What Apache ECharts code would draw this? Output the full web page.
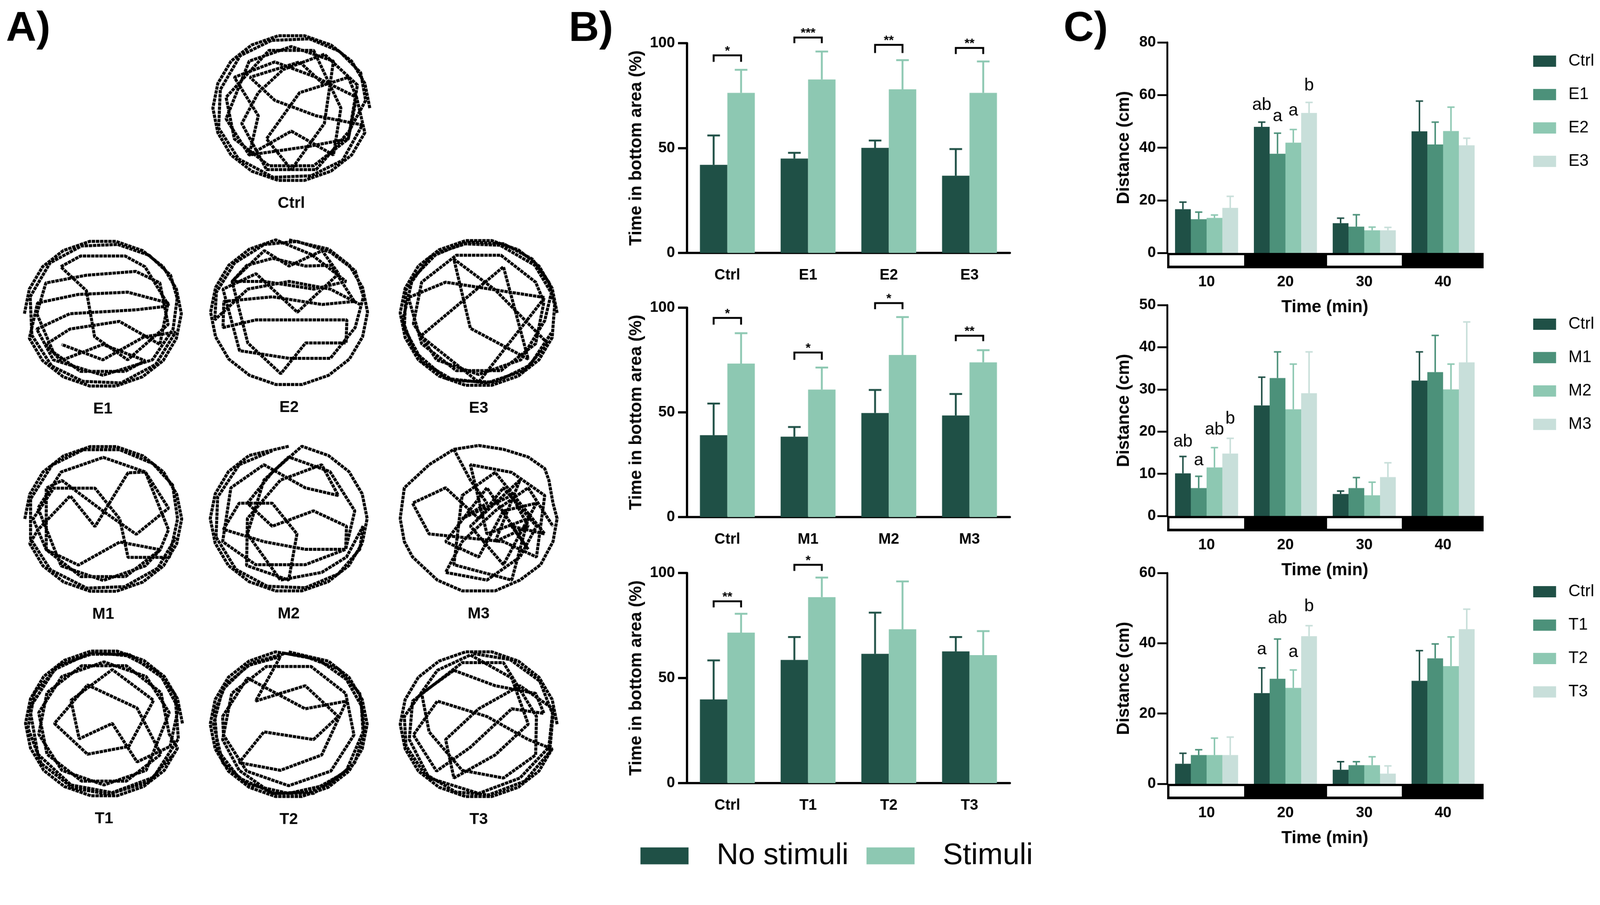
<!DOCTYPE html>
<html>
<head>
<meta charset="utf-8">
<script src="https://cdn.jsdelivr.net/npm/echarts@6/dist/echarts.min.js"></script>
<style>
  html, body { margin: 0; padding: 0; background: #fff; overflow: hidden; }
  #main { width: 4262px; height: 2318px; transform-origin: 0 0; }
</style>
</head>
<body>
<div id="main"></div>
<script>
// colours and fonts
var DARK = '#1f5046', MID = '#4c917a', LIGHT = '#8dc8b2', PALE = '#c8dfda';
var NARROW = "'Liberation Sans Narrow','Arial Narrow','Liberation Sans',sans-serif";
var SANS = "'Liberation Sans',Arial,sans-serif";

// ---- panel B : time in bottom area (%) ----
var bCats1 = ['Ctrl', 'E1', 'E2', 'E3'];
var bNoStim1 = [42.0, 45.0, 50.1, 36.8];
var bNoStimTop1 = [56.0, 47.7, 53.6, 49.5];
var bStim1 = [76.3, 82.7, 78.0, 76.3];
var bStimTop1 = [87.3, 96.0, 91.9, 91.3];
var bSig1 = [[0, 94.2, 91.1], [1, 102.7, 100.0], [2, 99.2, 95.3], [3, 97.7, 94.8]];
var bStars1 = ['*', '***', '**', '**'];

var bCats2 = ['Ctrl', 'M1', 'M2', 'M3'];
var bNoStim2 = [39.1, 38.4, 49.7, 48.5];
var bNoStimTop2 = [54.2, 43.0, 60.7, 58.8];
var bStim2 = [73.3, 60.9, 77.4, 73.9];
var bStimTop2 = [87.8, 71.4, 95.5, 79.7];
var bSig2 = [[0, 95.1, 91.9], [1, 78.6, 75.1], [2, 102.2, 99.3], [3, 86.6, 84.0]];
var bStars2 = ['*', '*', '*', '**'];

var bCats3 = ['Ctrl', 'T1', 'T2', 'T3'];
var bNoStim3 = [39.8, 58.6, 61.5, 62.7];
var bNoStimTop3 = [58.4, 69.5, 81.1, 69.5];
var bStim3 = [71.6, 88.5, 73.2, 60.9];
var bStimTop3 = [80.6, 97.8, 96.0, 72.3];
var bSig3 = [[0, 86.5, 83.6], [1, 103.9, 101.0]];
var bStars3 = ['**', '*'];

// ---- panel C : distance (cm) per 10 min ----
var cTimes = ['10', '20', '30', '40'];
var cPhase = ['light', 'dark', 'light', 'dark'];

var cGroups1 = ['Ctrl', 'E1', 'E2', 'E3'];
var cMeans1 = [
  [16.6, 47.9, 11.3, 46.2],
  [12.8, 37.7, 10.0, 41.2],
  [13.3, 41.9, 8.6, 46.3],
  [17.1, 53.2, 8.6, 40.9]
];
var cTops1 = [
  [19.3, 49.7, 13.2, 57.7],
  [15.5, 45.5, 14.5, 49.7],
  [14.4, 46.9, 9.8, 55.4],
  [21.5, 57.2, 9.7, 43.6]
];
var cLetterPos1 = [[1, 0, 56.1], [1, 1, 51.9], [1, 2, 54.0], [1, 3, 63.5]];
var cLetters1 = ['ab', 'a', 'a', 'b'];

var cGroups2 = ['Ctrl', 'M1', 'M2', 'M3'];
var cMeans2 = [
  [10.1, 26.2, 5.2, 32.1],
  [6.6, 32.7, 6.6, 34.1],
  [11.5, 25.3, 4.9, 30.0],
  [14.8, 29.1, 9.2, 36.4]
];
var cTops2 = [
  [14.1, 32.9, 5.9, 38.9],
  [9.4, 38.9, 9.1, 42.8],
  [16.2, 36.0, 8.0, 36.0],
  [18.4, 38.9, 12.6, 46.0]
];
var cLetterPos2 = [[0, 0, 17.6], [0, 1, 13.1], [0, 2, 20.4], [0, 3, 23.0]];
var cLetters2 = ['ab', 'a', 'ab', 'b'];

var cGroups3 = ['Ctrl', 'T1', 'T2', 'T3'];
var cMeans3 = [
  [5.7, 25.8, 4.0, 29.3],
  [8.2, 29.9, 5.3, 35.7],
  [8.2, 27.3, 5.3, 33.5],
  [8.2, 42.0, 2.9, 44.0]
];
var cTops3 = [
  [8.7, 33.0, 6.3, 37.9],
  [9.7, 41.2, 6.3, 39.8],
  [13.0, 32.4, 7.7, 41.8],
  [13.3, 45.0, 5.1, 49.7]
];
var cLetterPos3 = [[1, 0, 38.2], [1, 1, 47.1], [1, 2, 37.4], [1, 3, 50.5]];
var cLetters3 = ['a', 'ab', 'a', 'b'];

// ---- panel A : swimming tracks (rough hand traced paths, arena units -10..10) ----
var arenaNames = ['Ctrl', 'E1', 'E2', 'E3', 'M1', 'M2', 'M3', 'T1', 'T2', 'T3'];
var trackCtrl = [[9.5,0],[8.9,3.2],[7.3,6.1],[4.8,8.2],[1.6,9.4],[-1.6,9.4],[-4.8,8.2],[-7.3,6.1],[-8.9,3.2],[-9.5,0],[-8.9,-3.2],[-7.3,-6.1],[-4.8,-8.2],[-1.6,-9.4],[1.6,-9.4],[4.8,-8.2],[7.3,-6.1],[8.9,-3.2],[7.9,1.4],[3,4],[-2,6],[-6.9,4],[-4,-1],[-5.1,-6.1],[0,-3],[5.1,-6.1],[6,0],[2.7,7.5],[-2.7,7.5],[-7.9,1.4],[-6.9,-4],[-2.7,-7.5],[2.7,-7.5],[6.9,-4],[7.9,1.4],[6.9,4],[1,2],[-3,-4],[0,-8],[4,-2],[5.1,6.1],[0,8],[-5.1,6.1],[-7.9,-1.4],[-5.1,-6.1],[2,-5],[6.9,-4],[8,3],[4,7],[-1,5],[-4,2],[-6,-2],[-3,-8],[3,-8],[7,-3],[9,1],[8.4,4.6],[5.8,7.4],[2.2,9],[-2.4,8.8],[-6.2,6.8],[-8.6,2.4],[-8.8,-2.6],[-6.4,-6.6],[-2.2,-9],[2.4,-8.8],[6.2,-6.8],[8.6,-2.2],[3,-1],[-2,1],[-5,4],[1,6],[4,3]];
var trackE1 = [[-9.5,0],[-8.9,3.2],[-7.3,6.1],[-4.8,8.2],[-1.6,9.4],[1.6,9.4],[4.8,8.2],[7.3,6.1],[8.9,3.2],[9.5,0],[8.9,-3.2],[7.3,-6.1],[4.8,-8.2],[1.6,-9.4],[-1.6,-9.4],[-4.8,-8.2],[-7.3,-6.1],[-8.9,-3.2],[-7.9,1.4],[-3,2.5],[3,2.8],[7.9,1.4],[6.9,-4],[2,-1],[-4,-2],[-6.9,-4],[-5.1,-6.1],[0,-4],[5.1,-6.1],[2.7,-7.5],[-2.7,-7.5],[-6,-5],[-8,0],[-6.9,4],[-2,5],[4,5.5],[6.9,4],[7.9,-1.4],[3,-6],[-1,-3],[-2,3],[-5.1,6.1],[-2.7,7.5],[2.7,7.5],[5.1,6.1],[8,1],[4,0.5],[-4,0],[-8,-2],[-6,-6],[0,-8],[6,-6],[8.5,-2],[9,2],[8.2,5],[5.6,7.6],[1.8,9],[-2.6,8.8],[-6.4,6.6],[-8.8,2.2],[-8.6,-2.8],[-6.2,-6.8],[-2.4,-8.8],[2.2,-9],[6.4,-6.6],[8.8,-2.4],[5,-3],[0,-6],[-5,-4]];
var trackE2 = [[0,9.4],[4.8,8.2],[7.3,6.1],[8.9,3.2],[9.5,0],[8.9,-3.2],[7.3,-6.1],[4.8,-8.2],[1.6,-9.4],[-1.6,-9.4],[-4.8,-8.2],[-7.3,-6.1],[-8.9,-3.2],[-9.5,0],[-8.9,3.2],[-7.3,6.1],[-4.8,8.2],[-1.6,9.4],[2.7,7.5],[6.9,4],[3,3],[-3,4],[-6.9,4],[-5.1,6.1],[-2,7],[2,6],[5.1,6.1],[7.9,1.4],[4,1],[-2,2],[-7.9,1.4],[-8,-2],[-4,-1],[2,-1],[7,-1],[6.9,-4],[2,-4],[-1,-8],[-5,-4],[-6.9,4],[-3,8],[0,6],[4,8],[6,5],[1,0],[-4,5],[-8,3],[-6,-5],[0,-6],[5,-6],[8,-2],[9,2],[8,5.4],[5,7.8],[1,9.2],[-3,8.8],[-6.6,6.4],[-8.8,2.6],[-9,-1],[-5,3],[0,4],[5,3],[8.6,1]];
var trackE3 = [[9.5,0],[8.9,3.2],[7.3,6.1],[4.8,8.2],[1.6,9.4],[-1.6,9.4],[-4.8,8.2],[-7.3,6.1],[-8.9,3.2],[-9.5,0],[-8.9,-3.2],[-7.3,-6.1],[-4.8,-8.2],[-1.6,-9.4],[1.6,-9.4],[4.8,-8.2],[7.3,-6.1],[8.9,-3.2],[9.2,1],[8.5,4],[6.5,7],[3,9],[-1,9.2],[-5,7.8],[-8,4.5],[-9.2,-1],[-7.8,-5],[-4,-8.5],[1,-9.1],[5.5,-7.5],[8.4,-4],[2,3],[-3,7],[-1,-2],[6,-6],[3,6],[-7,-3],[0,-9],[8,2],[-4,4],[-8.5,2],[-6.9,-4],[-2.7,-7.5],[2.7,-7.5],[6.9,-4],[7.9,1.4],[6.9,4],[2.7,7.5],[-2.7,7.5],[-6.9,4],[-7.9,-1.4],[-5.1,-6.1],[0,-8],[5.1,-6.1],[8,-1],[8.8,2.6],[6.8,6.2],[2.6,8.8],[-2,9],[-6,7.2],[-8.8,3],[-9,-2],[-6.8,-6.4],[-3,-8.8],[2,-9],[6.2,-6.8],[8.8,-2.6]];
var trackM1 = [[-9.5,0],[-8.9,3.2],[-7.3,6.1],[-4.8,8.2],[-1.6,9.4],[1.6,9.4],[4.8,8.2],[7.3,6.1],[8.9,3.2],[9.5,0],[8.9,-3.2],[7.3,-6.1],[4.8,-8.2],[1.6,-9.4],[-1.6,-9.4],[-4.8,-8.2],[-7.3,-6.1],[-8.9,-3.2],[-7.9,-1.4],[-4,3],[-1,-1],[3,6],[5.1,6.1],[7.9,1.4],[4,-2],[0,1],[-5,5],[-6.9,4],[-6.9,-4],[-3,-6],[2,-3],[6.9,-4],[5.1,-6.1],[0,-8],[-5.1,-6.1],[-7.9,1.4],[-5.1,6.1],[0,8],[5.1,6.1],[7.9,-1.4],[6.9,-4],[2.7,-7.5],[-2.7,-7.5],[-6.9,-4],[-8.5,0],[-6,4],[-1,4],[2,0],[3,-5],[8,-5],[9,0],[8.4,4.4],[6,7.2],[2,9],[-2.4,9],[-6.2,7],[-8.8,2.6],[-8.8,-2.6],[-6.4,-6.6],[-2,-9],[2.6,-8.8],[6.6,-6.4],[8.8,-2.4]];
var trackM2 = [[0,9.4],[-4.8,8.2],[-7.3,6.1],[-8.9,3.2],[-9.5,0],[-8.9,-3.2],[-7.3,-6.1],[-4.8,-8.2],[-1.6,-9.4],[1.6,-9.4],[4.8,-8.2],[7.3,-6.1],[8.9,-3.2],[9.5,0],[8.9,3.2],[7.3,6.1],[4.8,8.2],[1.6,9.4],[-2,6],[-5,2],[-2,-1],[3,1],[7,-1],[6.9,-4],[2,-4],[-3,-3],[-7.9,-1.4],[-6,2],[-2,2],[1,-2],[0,-8],[-5.1,-6.1],[-5,0],[-1,5],[4,7],[6,3],[2,4],[-3,7],[-7,4],[-8,-3],[-4,-6],[2,-6],[6.9,-4],[8,1],[5,6.1],[0,8],[-3,5],[-5,-2],[-1,-8],[4,-7],[7,-5],[9,-1],[8.6,-4],[6,-7.2],[2,-9],[-2.6,-8.8],[-6.4,-6.6],[-8.8,-2.4],[-8.6,2.8],[-6,7],[-2,8.8]];
var trackM3 = [[-3,9],[0,9.5],[3,9],[6,8],[8,6.5],[8.5,5],[9,2],[9.5,0],[9,-3],[7.5,-6],[5,-8],[2,-9.4],[-2,-9.4],[-5,-8],[-8,-5],[-9,-3],[-9.5,0],[-9,4],[-6,7],[-3,9],[-1,5],[1,2],[-2,0],[4,3],[6,-1],[2,-3],[5,5],[-1,-1],[3,-6],[7,2],[3,1],[0,-5],[-4,-3],[1,4],[6,-4],[4,-1],[8,-2],[5,2],[2,6],[-2,3],[-3,-6],[4,-8],[6,0],[1,-2],[-1,7],[4,6],[8,3],[7,-5],[3,-3],[-6,-2],[-8,2],[-4,4],[0,0],[3,4],[7,-1],[5,-5],[1,-8],[-4,-7],[-2,-3],[2,1],[6,4],[9,-1]];
var trackT1 = [[9.5,0],[8.9,3.2],[7.3,6.1],[4.8,8.2],[1.6,9.4],[-1.6,9.4],[-4.8,8.2],[-7.3,6.1],[-8.9,3.2],[-9.5,0],[-8.9,-3.2],[-7.3,-6.1],[-4.8,-8.2],[-1.6,-9.4],[1.6,-9.4],[4.8,-8.2],[7.3,-6.1],[8.9,-3.2],[7.9,-1.4],[6.9,4],[2.7,7.5],[-2.7,7.5],[-6.9,4],[-7.9,-1.4],[-5.1,-6.1],[0,-8],[5.1,-6.1],[7.9,1.4],[5.1,6.1],[0,8],[-5.1,6.1],[-7.9,1.4],[-6.9,-4],[-2.7,-7.5],[2.7,-7.5],[6.9,-4],[4,2],[-2,5],[-6,0],[-2,-4],[3,-3],[6,3],[1,7],[-4,3],[-3,-2],[1,0],[4,-5],[8,-3],[9,2],[7,6],[3,9],[-2,9],[-6,7],[-9,2],[-8,-4],[-4,-8],[1,-9],[6,-7],[9,-2],[8.6,3.8],[6.4,6.8],[2.8,8.8],[-1,9.2],[-5.4,7.6],[-8.4,4],[-9.2,-0.6],[-7.6,-5.2],[-3.8,-8.4],[0.6,-9.2],[5.4,-7.6],[8.4,-4]];
var trackT2 = [[0,9.4],[4.8,8.2],[7.3,6.1],[8.9,3.2],[9.5,0],[8.9,-3.2],[7.3,-6.1],[4.8,-8.2],[1.6,-9.4],[-1.6,-9.4],[-4.8,-8.2],[-7.3,-6.1],[-8.9,-3.2],[-9.5,0],[-8.9,3.2],[-7.3,6.1],[-4.8,8.2],[-1.6,9.4],[2,8.8],[6,7.2],[8.6,4],[9.2,-1],[8,-5],[5,-7.8],[0,-9],[-5,-7.8],[-8,-5],[-9.1,0],[-8,4.5],[-5,7.6],[-1,8.8],[-4,3],[2,5],[6,1],[3,-2],[-3,-1],[-6,-5],[-1,-6],[4,-4],[7,3],[2,2],[-5,6],[-8,1],[-7.9,-1.4],[-5.1,-6.1],[0,-8],[5.1,-6.1],[7.9,-1.4],[6.9,4],[2.7,7.5],[-2.7,7.5],[-6.9,4],[-8,-2],[-6,-6],[-2,-9],[3,-9],[7,-6],[9,-1],[8.8,2.4],[7,5.8],[3.6,8.4],[-0.4,9.2],[-4.4,8],[-7.6,5.2],[-9,1.6],[-8.6,-3.4],[-6,-7],[-1.8,-9],[2.6,-8.8],[6.6,-6.4]];
var trackT3 = [[9.5,0],[8.9,3.2],[7.3,6.1],[4.8,8.2],[1.6,9.4],[-1.6,9.4],[-4.8,8.2],[-7.3,6.1],[-8.9,3.2],[-9.5,0],[-8.9,-3.2],[-7.3,-6.1],[-4.8,-8.2],[-1.6,-9.4],[1.6,-9.4],[4.8,-8.2],[7.3,-6.1],[8.9,-3.2],[6,-2],[1,1],[-5,3],[-7.9,-1.4],[-5.1,-6.1],[-1,-3],[4,2],[7.9,1.4],[6.9,4],[2,5],[-3,7],[-6.9,4],[-6,-1],[-2,-6],[3,-7],[6.9,-4],[7,1],[3,8],[-2,8],[-8,3],[-8.4,-2],[-6,-7],[0,-9],[5,-7],[8.5,-3],[9,2],[5,5],[0,2],[-4,-2],[-3,-7],[2,-4],[6,0],[4,6],[-1,9],[-5,7],[-9,1],[-8.8,-2.8],[-6.6,-6.4],[-2.8,-8.8],[1.2,-9.2],[5.6,-7.4],[8.6,-3.6],[9,1.2],[7.4,5.6],[3.8,8.4],[-0.8,9.2]];
var tracks = [trackCtrl, trackE1, trackE2, trackE3, trackM1, trackM2, trackM3, trackT1, trackT2, trackT3];

// layout (page pixels)
var arenaCenters = [[776, 288], [274, 836], [770, 832], [1275, 834],
                    [275, 1383], [769, 1382], [1275, 1382],
                    [277, 1928], [769, 1930], [1275, 1930]];
var bTops = [115, 820, 1527], bHeights = [559, 558, 560];
var cTopsPx = [113, 813, 1527], cHeights = [561, 562, 562];
var B_GAP = 0.32, C_GAP = 0.20;

// fit the 4262x2318 drawing into whatever viewport the browser really has
var box = document.getElementById('main');
var fit = Math.min(window.innerWidth / 4262, window.innerHeight / 2318);
if (fit > 0 && Math.abs(fit - 1) > 0.002) box.style.transform = 'scale(' + fit + ')';

var chart = echarts.init(box, null, { renderer: 'canvas' });

var grids = [], xAxes = [], yAxes = [], series = [], legends = [];

// bar-offset helper used by the custom series
function barX(api, cat, k, n, gap) {
  var c = api.coord([cat, 0]);
  var band = api.size([1, 0])[0];
  var bw = band * (1 - gap) / n;
  return { x: c[0] - band * (1 - gap) / 2 + (k + 0.5) * bw, bw: bw };
}

function errSeries(ax, means, tops, k, n, gap, color, lw) {
  var data = means.map(function (m, i) { return [i, m, tops[i]]; });
  return {
    type: 'custom', name: 'err' + ax + '_' + k, xAxisIndex: ax, yAxisIndex: ax, z: 3,
    data: data, encode: { x: 0, y: [1, 2] },
    renderItem: function (params, api) {
      var p = barX(api, api.value(0), k, n, gap);
      var y0 = api.coord([api.value(0), api.value(1)])[1];
      var y1 = api.coord([api.value(0), api.value(2)])[1];
      var cap = p.bw * 0.46;
      return { type: 'group', children: [
        { type: 'line', shape: { x1: p.x, y1: y0, x2: p.x, y2: y1 }, style: { stroke: color, lineWidth: lw } },
        { type: 'line', shape: { x1: p.x - cap / 2, y1: y1, x2: p.x + cap / 2, y2: y1 }, style: { stroke: color, lineWidth: lw } }
      ] };
    }
  };
}

function bracketSeries(ax, sig, stars) {
  return {
    type: 'custom', name: 'sig' + ax, xAxisIndex: ax, yAxisIndex: ax, z: 4,
    data: sig, encode: { x: 0, y: [1, 2] },
    renderItem: function (params, api) {
      var a = barX(api, api.value(0), 0, 2, B_GAP);
      var b = barX(api, api.value(0), 1, 2, B_GAP);
      var yt = api.coord([api.value(0), api.value(1)])[1];
      var yl = api.coord([api.value(0), api.value(2)])[1];
      return { type: 'group', children: [
        { type: 'polyline', shape: { points: [[a.x, yl], [a.x, yt], [b.x, yt], [b.x, yl]] },
          style: { stroke: '#000', lineWidth: 5, fill: null } },
        { type: 'text', x: (a.x + b.x) / 2, y: yt + 6,
          style: { text: stars[params.dataIndex], textAlign: 'center', textVerticalAlign: 'bottom',
                   font: 'bold 34px ' + SANS, fill: '#000' } }
      ] };
    }
  };
}

function letterSeries(ax, pos, letters) {
  return {
    type: 'custom', name: 'let' + ax, xAxisIndex: ax, yAxisIndex: ax, z: 4,
    data: pos, encode: { x: 0, y: 2 },
    renderItem: function (params, api) {
      var p = barX(api, api.value(0), api.value(1), 4, C_GAP);
      var y = api.coord([api.value(0), api.value(2)])[1];
      return { type: 'text', x: p.x, y: y,
        style: { text: letters[params.dataIndex], textAlign: 'center', textVerticalAlign: 'middle',
                 font: '46px ' + SANS, fill: '#000' } };
    }
  };
}

function stripSeries(ax) {
  return {
    type: 'custom', name: 'strip' + ax, xAxisIndex: ax, yAxisIndex: ax, z: 5,
    data: cPhase.map(function (p, i) { return [i, 0]; }), encode: { x: 0, y: 1 },
    renderItem: function (params, api) {
      var c = api.coord([api.value(0), 0]);
      var band = api.size([1, 0])[0];
      var x0 = c[0] - band / 2, h = 41;
      var kids = [{ type: 'rect', shape: { x: x0, y: c[1], width: band + 3, height: h }, style: { fill: '#000' } }];
      if (cPhase[params.dataIndex] === 'light') {
        kids.push({ type: 'rect', shape: { x: x0 + 6, y: c[1] + 6, width: band - 11, height: h - 13 }, style: { fill: '#fff' } });
      }
      return { type: 'group', children: kids };
    }
  };
}

// ---- panel B grids ----
var bSets = [
  [bCats1, bNoStim1, bNoStimTop1, bStim1, bStimTop1, bSig1, bStars1],
  [bCats2, bNoStim2, bNoStimTop2, bStim2, bStimTop2, bSig2, bStars2],
  [bCats3, bNoStim3, bNoStimTop3, bStim3, bStimTop3, bSig3, bStars3]
];
bSets.forEach(function (s, i) {
  grids.push({ left: 1830, top: bTops[i], width: 860, height: bHeights[i] });
  xAxes.push({
    type: 'category', gridIndex: i, data: s[0],
    axisLine: { lineStyle: { color: '#000', width: 6 } },
    axisTick: { alignWithLabel: true, length: 36, lineStyle: { color: '#000', width: 6 } },
    axisLabel: { color: '#000', fontFamily: NARROW, fontWeight: 'bold', fontSize: 40, margin: 40 }
  });
  yAxes.push({
    type: 'value', gridIndex: i, min: 0, max: 100, interval: 50,
    name: 'Time in bottom area (%)', nameLocation: 'middle', nameGap: 112,
    nameTextStyle: { color: '#000', fontFamily: NARROW, fontWeight: 'bold', fontSize: 46 },
    axisLine: { show: true, lineStyle: { color: '#000', width: 6 } },
    axisTick: { show: true, length: 24, lineStyle: { color: '#000', width: 6 } },
    axisLabel: { color: '#000', fontFamily: NARROW, fontWeight: 'bold', fontSize: 40, margin: 32 },
    splitLine: { show: false }
  });
  series.push({ type: 'bar', name: 'No stimuli', xAxisIndex: i, yAxisIndex: i, data: s[1],
    itemStyle: { color: DARK }, barGap: '0%', barCategoryGap: (B_GAP * 100) + '%' });
  series.push({ type: 'bar', name: 'Stimuli', xAxisIndex: i, yAxisIndex: i, data: s[3],
    itemStyle: { color: LIGHT }, barGap: '0%', barCategoryGap: (B_GAP * 100) + '%' });
  series.push(errSeries(i, s[1], s[2], 0, 2, B_GAP, DARK, 5));
  series.push(errSeries(i, s[3], s[4], 1, 2, B_GAP, LIGHT, 5));
  series.push(bracketSeries(i, s[5], s[6]));
});

legends.push({
  data: ['No stimuli', 'Stimuli'], left: 1701, top: 2236, icon: 'rect',
  itemWidth: 128, itemHeight: 45, itemGap: 48,
  textStyle: { color: '#000', fontFamily: SANS, fontSize: 80, padding: [0, 0, 0, 70] }
});

// ---- panel C grids ----
var cSets = [
  [cGroups1, cMeans1, cTops1, cLetterPos1, cLetters1, 80, 20],
  [cGroups2, cMeans2, cTops2, cLetterPos2, cLetters2, 50, 10],
  [cGroups3, cMeans3, cTops3, cLetterPos3, cLetters3, 60, 20]
];
var cColors = [DARK, MID, LIGHT, PALE];
var cLegendTops = [136, 837, 1550];
cSets.forEach(function (s, j) {
  var ax = 3 + j;
  grids.push({ left: 3109, top: cTopsPx[j], width: 840, height: cHeights[j] });
  xAxes.push({
    type: 'category', gridIndex: ax, data: cTimes,
    name: 'Time (min)', nameLocation: 'middle', nameGap: 122,
    nameTextStyle: { color: '#000', fontFamily: NARROW, fontWeight: 'bold', fontSize: 46 },
    axisLine: { show: false }, axisTick: { show: false },
    axisLabel: { color: '#000', fontFamily: NARROW, fontWeight: 'bold', fontSize: 40, margin: 58 }
  });
  yAxes.push({
    type: 'value', gridIndex: ax, min: 0, max: s[5], interval: s[6],
    name: 'Distance (cm)', nameLocation: 'middle', nameGap: 92,
    nameTextStyle: { color: '#000', fontFamily: NARROW, fontWeight: 'bold', fontSize: 46 },
    axisLine: { show: true, lineStyle: { color: '#000', width: 5 } },
    axisTick: { show: true, length: 26, lineStyle: { color: '#000', width: 5 } },
    axisLabel: { color: '#000', fontFamily: NARROW, fontWeight: 'bold', fontSize: 40, margin: 30 },
    splitLine: { show: false }
  });
  s[0].forEach(function (g, k) {
    series.push({ type: 'bar', name: g, xAxisIndex: ax, yAxisIndex: ax, data: s[1][k],
      itemStyle: { color: cColors[k] }, barGap: '0%', barCategoryGap: (C_GAP * 100) + '%' });
  });
  s[0].forEach(function (g, k) {
    series.push(errSeries(ax, s[1][k], s[2][k], k, 4, C_GAP, cColors[k], 4));
  });
  series.push(letterSeries(ax, s[3], s[4]));
  series.push(stripSeries(ax));
  legends.push({
    data: s[0], orient: 'vertical', left: 4079, top: cLegendTops[j], icon: 'rect',
    itemWidth: 61, itemHeight: 30, itemGap: 45,
    textStyle: { color: '#000', fontFamily: SANS, fontSize: 44, lineHeight: 30, padding: [0, 0, 0, 28] }
  });
});

// ---- panel A arenas ----
tracks.forEach(function (t, i) {
  var ax = 6 + i, c = arenaCenters[i];
  grids.push({ left: c[0] - 220, top: c[1] - 205, width: 440, height: 410 });
  xAxes.push({
    type: 'value', gridIndex: ax, min: -10, max: 10, show: true,
    name: arenaNames[i], nameLocation: 'middle', nameGap: 28,
    nameTextStyle: { color: '#000', fontFamily: NARROW, fontWeight: 'bold', fontSize: 42 },
    axisLine: { show: false }, axisTick: { show: false }, axisLabel: { show: false }, splitLine: { show: false }
  });
  yAxes.push({ type: 'value', gridIndex: ax, min: -10, max: 10, show: false, splitLine: { show: false } });
  series.push({
    type: 'line', name: 'track' + i, xAxisIndex: ax, yAxisIndex: ax, data: t,
    showSymbol: false, silent: true,
    lineStyle: { color: '#000', width: 8, type: [9, 2], cap: 'butt' }
  });
});

chart.setOption({
  animation: false,
  backgroundColor: '#fff',
  grid: grids, xAxis: xAxes, yAxis: yAxes, legend: legends, series: series,
  graphic: [
    { type: 'text', left: 16, top: 22, style: { text: 'A)', font: 'bold 112px ' + SANS, fill: '#000' } },
    { type: 'text', left: 1515, top: 22, style: { text: 'B)', font: 'bold 112px ' + SANS, fill: '#000' } },
    { type: 'text', left: 2833, top: 22, style: { text: 'C)', font: 'bold 112px ' + SANS, fill: '#000' } }
  ]
});
</script>
</body>
</html>
